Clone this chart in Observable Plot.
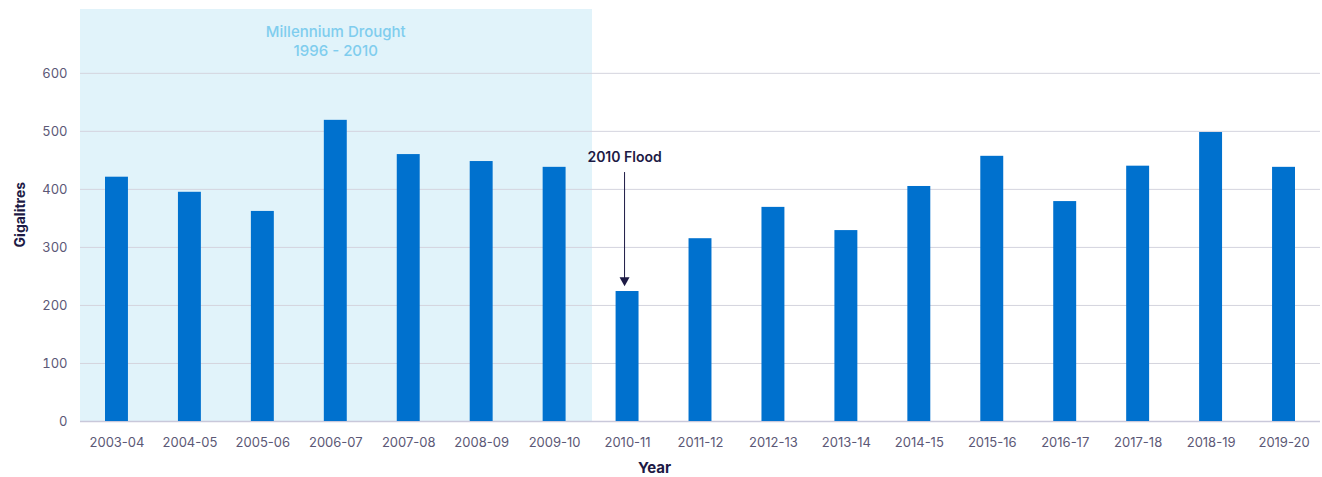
<!DOCTYPE html>
<html>
<head>
<meta charset="utf-8">
<script src="https://cdn.jsdelivr.net/npm/d3@7"></script>
<script src="https://cdn.jsdelivr.net/npm/@observablehq/plot@0.6"></script>
<style>
  html, body { margin: 0; padding: 0; background: #ffffff; }
  #chart { width: 1322px; height: 477px; }
</style>
</head>
<body>
<div id="chart"></div>
<script>
// ---- data ----
const years = ["2003-04","2004-05","2005-06","2006-07","2007-08","2008-09","2009-10",
               "2010-11","2011-12","2012-13","2013-14","2014-15","2015-16","2016-17",
               "2017-18","2018-19","2019-20"];
const gigalitres = [421, 395, 362, 519, 460, 448, 438,
                    224, 315, 369, 329, 405, 457, 379,
                    440, 498, 438];
const yTicks = [0, 100, 200, 300, 400, 500, 600];
const droughtYears = ["2003-04","2004-05","2005-06","2006-07","2007-08","2008-09","2009-10"];
const droughtLabel = "Millennium Drought\n1996 - 2010";
const droughtLabelYear = "2006-07";
const droughtLabelValue = 656;
const yTop = 710;
const floodYear = "2010-11";
const floodLabel = "2010 Flood";
const floodLabelValue = 455;
const floodArrowStart = 429;
const floodArrowHead = 241;

const data = years.map((year, i) => ({year, value: gigalitres[i]}));

const downTriangle = {
  draw(context, size) {
    const r = Math.sqrt(size / Math.PI);
    context.moveTo(-r, -r * 0.9);
    context.lineTo(r, -r * 0.9);
    context.lineTo(0, r * 0.9);
    context.closePath();
  }
};

const font = "Inter, 'Open Sans', Lato, sans-serif";

const chart = Plot.plot({
  width: 1322,
  height: 477,
  marginLeft: 80,
  marginRight: 2,
  marginTop: 9,
  marginBottom: 56,
  style: {fontFamily: font, fontSize: "13px", color: "#5c5876", background: "#ffffff"},
  x: {domain: years, padding: 0, round: false, tickSize: 0, tickPadding: 16, label: null},
  y: {domain: [0, yTop], ticks: yTicks, tickSize: 0, tickPadding: 13, label: null},
  marks: [
    Plot.cell(droughtYears, {x: d => d, fill: "#e1f3fa", inset: 0, insetRight: -1, shapeRendering: "crispEdges"}),
    Plot.ruleY(yTicks.filter(d => d > 0), {stroke: "#d4d4de", strokeWidth: 1}),
    Plot.ruleY([0], {stroke: "#c9c8da", strokeWidth: 1.5}),
    Plot.barY(data, {x: "year", y: "value", fill: "#0071ce", insetLeft: 25, insetRight: 25}),
    Plot.text([droughtLabel], {x: () => droughtLabelYear, y: () => droughtLabelValue, text: d => d,
      fill: "#7fcdee", fontSize: 15, fontWeight: 500, lineHeight: 1.27}),
    Plot.text([floodLabel], {x: () => floodYear, y: () => floodLabelValue, text: d => d,
      fill: "#1d1a45", fontSize: 14, fontWeight: 600, dx: -3}),
    Plot.ruleX([floodYear], {x: d => d, y1: floodArrowStart, y2: floodArrowHead, stroke: "#1d1a45", strokeWidth: 1, dx: -3}),
    Plot.dot([floodYear], {x: d => d, y: floodArrowHead, symbol: downTriangle, r: 5, fill: "#1d1a45", stroke: "none", dx: -3}),
    Plot.text(["Gigalitres"], {y: () => 300, frameAnchor: "left", dx: -60, rotate: -90,
      fill: "#1d1a45", fontSize: 14, fontWeight: 700}),
    Plot.text(["Year"], {frameAnchor: "bottom", dx: -46, dy: 51,
      fill: "#1d1a45", fontSize: 15, fontWeight: 700})
  ]
});
document.getElementById("chart").appendChild(chart);
</script>
</body>
</html>
